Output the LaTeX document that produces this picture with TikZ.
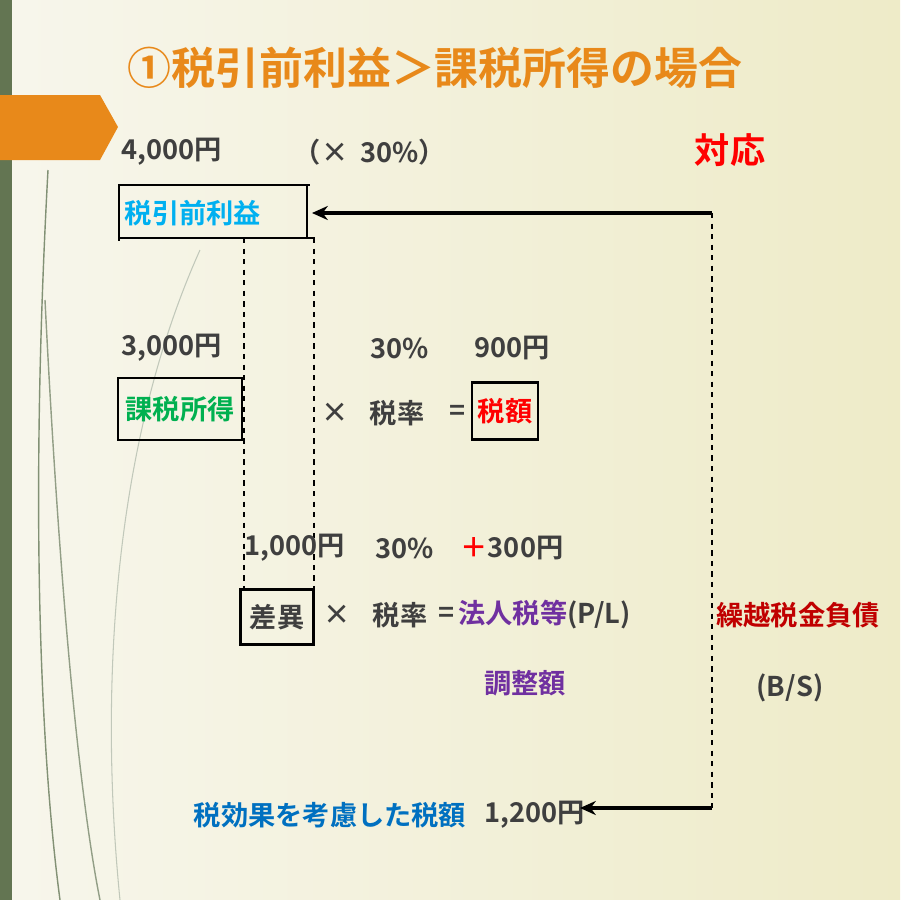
\documentclass[tikz,border=0pt]{standalone}
\usepackage{fontspec}
\setmainfont{Noto Sans CJK JP}[BoldFont={* Bold}]
\usetikzlibrary{arrows.meta}
\definecolor{orng}{HTML}{E8891A}
\definecolor{dgrey}{HTML}{3F3F3F}
\definecolor{cyanT}{HTML}{00B0F0}
\definecolor{greenT}{HTML}{00B050}
\definecolor{purp}{HTML}{7030A0}
\definecolor{dred}{HTML}{C00000}
\definecolor{blueT}{HTML}{0070C0}
\definecolor{bar}{HTML}{637552}
\definecolor{bgL}{HTML}{F7F6EC}
\definecolor{bgR}{HTML}{EEEBC8}
\begin{document}
\begin{tikzpicture}[x=0.02cm,y=-0.02cm,
  t/.style={font=\bfseries\fontsize{15.5}{18}\selectfont,text=dgrey,inner sep=0pt},
  bx/.style={draw=black,line width=1.2pt,inner sep=0pt},
  dsh/.style={dashed,line width=1.1pt},
  arr/.style={-{Stealth[length=9pt,width=8pt]},line width=2pt}]
\shade[left color=bgL, right color=bgR] (0,0) rectangle (900,900);
\useasboundingbox (0,0) rectangle (900,900);
\fill[bar] (0,0) rectangle (12,900);
\draw[bar!80,line width=0.8pt] (48,170) .. controls (30,500) and (40,750) .. (60,900);
\draw[bar!70,line width=0.8pt] (45,300) .. controls (60,600) and (80,800) .. (100,900);
\draw[bar!40,line width=0.6pt] (200,250) .. controls (110,450) and (100,700) .. (120,900);
\fill[orng] (0,95) -- (100,95) -- (118,127) -- (100,160) -- (0,160) -- cycle;
\node[font=\bfseries\fontsize{25}{28}\selectfont,text=orng] (title) at (435,68) {①税引前利益＞課税所得の場合};
\node[t] (a1) at (172,152) {4,000円};
\node[t] (a2) at (370,152) {（×\ \ 30\%）};
\node[t,text=red,font=\bfseries\fontsize{20}{22}\selectfont] (taio) at (730,150) {対応};
% box 1
\draw[line width=1.6pt] (120,185) -- (310,185) (120,238) -- (315,238);
\draw[line width=0.9pt] (119,184) -- (119,241) (307,185) -- (307,238);
\node[t,text=cyanT] (zei) at (193,213) {税引前利益};
\coordinate (r1) at (712,213);
\coordinate (r2) at (712,808);
\coordinate (e1) at (312,213);
\coordinate (e2) at (580,808);
\node[t] (n1200) at (535,815) {1,200円};
\draw[arr] (r1) -- (e1);
\draw[dsh] (r1) -- (r2);
\draw[arr] (r2) -- (e2);
% row 2
\node[t] (a3) at (172,348) {3,000円};
\node[t] (a4) at (400,348) {30\%};
\node[t] (a5) at (512,348) {900円};
\node[bx,minimum width=124*0.02cm,minimum height=62*0.02cm] (b2) at (180,409) {};
\node[t,text=greenT] at (b2) {課税所得};
\node[t] (x1) at (335,413) {×};
\node[t] (r1t) at (397,413) {税率};
\node[t] (eq1) at (458,413) {=};
\node[bx,minimum width=66*0.02cm,minimum height=57*0.02cm] (b3) at (505,411) {};
\node[t,text=red] at (b3) {税額};
% dashed
\coordinate (d1) at (244,238);
\coordinate (d1b) at (244,590);
\coordinate (d2) at (314,238);
\coordinate (d2b) at (314,590);
\draw[dsh] (d1) -- (d1b) (d2) -- (d2b);
% row 3
\node[t] (a6) at (295,548) {1,000円};
\node[t] (a7) at (405,548) {30\%};
\node[t] (a8) at (512,548) {\textcolor{red}{＋}300円};
\node[bx,minimum width=73*0.02cm,minimum height=55*0.02cm] (b4) at (277,617) {};
\node[t] at (b4) {差異};
\node[t] (x2) at (337,615) {×};
\node[t] (r2t) at (400,615) {税率};
\node[t] (eq2) at (447,615) {=};
\node[t,anchor=west] (hou) at (458,615) {\textcolor{purp}{法人税等}(P/L)};
\node[t,text=purp] (cho) at (525,683) {調整額};
\node[t,text=dred] (kuri) at (798,615) {繰越税金負債};
\node[t] (bs) at (790,688) {(B/S)};
\node[t,text=blueT] (zk) at (330,815) {税効果を考慮した税額};
\end{tikzpicture}
\end{document}
